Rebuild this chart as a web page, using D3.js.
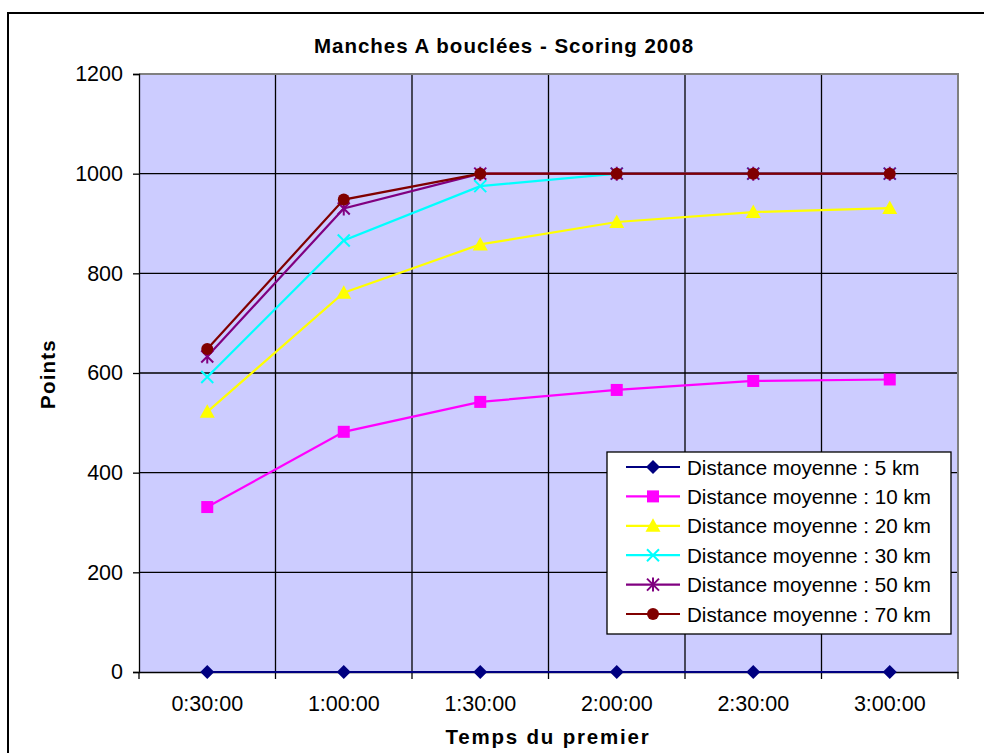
<!DOCTYPE html>
<html>
<head>
<meta charset="utf-8">
<script src="https://cdn.jsdelivr.net/npm/d3@7"></script>
<style>
  body { margin: 0; background: #fff; }
  text { font-family: "Liberation Sans", Arial, sans-serif; }
</style>
</head>
<body>
<svg id="chart" width="984" height="753"></svg>
<script>
// Categories (time of the first pilot)
const categories = ["0:30:00", "1:00:00", "1:30:00", "2:00:00", "2:30:00", "3:00:00"];

// Series values
const km5  = [0, 0, 0, 0, 0, 0];
const km10 = [331, 482, 542, 566, 584, 587];
const km20 = [522, 761, 858, 903, 923, 931];
const km30 = [592, 866, 975, 1000, 1000, 1000];
const km50 = [633, 930, 1000, 1000, 1000, 1000];
const km70 = [648, 948, 1000, 1000, 1000, 1000];

const seriesNames = [
    "Distance moyenne : 5 km",
    "Distance moyenne : 10 km",
    "Distance moyenne : 20 km",
    "Distance moyenne : 30 km",
    "Distance moyenne : 50 km",
    "Distance moyenne : 70 km"
];
const yTicks = [0, 200, 400, 600, 800, 1000, 1200];

const series = [
    { name: seriesNames[0], values: km5,  color: "#000080", marker: "diamond" },
    { name: seriesNames[1], values: km10, color: "#FF00FF", marker: "square" },
    { name: seriesNames[2], values: km20, color: "#FFFF00", marker: "triangle" },
    { name: seriesNames[3], values: km30, color: "#00FFFF", marker: "cross" },
    { name: seriesNames[4], values: km50, color: "#800080", marker: "star" },
    { name: seriesNames[5], values: km70, color: "#800000", marker: "circle" }
];

const svg = d3.select("#chart");

// Chart area border
svg.append("rect")
    .attr("x", 8).attr("y", 13)
    .attr("width", 1000).attr("height", 760)
    .attr("fill", "#fff")
    .attr("stroke", "#000")
    .attr("stroke-width", 2);

// Plot area
const plot = { left: 139, top: 74, right: 958, bottom: 672 };

const x = d3.scaleBand()
    .domain(categories)
    .range([plot.left, plot.right]);

const y = d3.scaleLinear()
    .domain([0, 1200])
    .range([plot.bottom, plot.top]);

svg.append("rect")
    .attr("x", plot.left).attr("y", plot.top)
    .attr("width", plot.right - plot.left)
    .attr("height", plot.bottom - plot.top)
    .attr("fill", "#CCCCFF");

// Horizontal gridlines
svg.append("g")
    .selectAll("line")
    .data(yTicks.filter(d => d > 0 && d < 1200))
    .enter().append("line")
    .attr("x1", plot.left).attr("x2", plot.right)
    .attr("y1", d => y(d)).attr("y2", d => y(d))
    .attr("stroke", "#000").attr("stroke-width", 1.3);

// Vertical gridlines at category boundaries
svg.append("g")
    .selectAll("line")
    .data(categories.slice(1))
    .enter().append("line")
    .attr("x1", d => x(d)).attr("x2", d => x(d))
    .attr("y1", plot.top).attr("y2", plot.bottom)
    .attr("stroke", "#000").attr("stroke-width", 1.3);

// Plot border (top & right in gray)
svg.append("path")
    .attr("d", `M${plot.left},${plot.top}H${plot.right}V${plot.bottom}`)
    .attr("fill", "none")
    .attr("stroke", "#808080")
    .attr("stroke-width", 2);

// Y axis
const yAxis = svg.append("g")
    .attr("transform", `translate(${plot.left},0)`)
    .call(d3.axisLeft(y).tickValues(yTicks).tickFormat(d3.format("d")).tickSize(6).tickPadding(10));
yAxis.select(".domain").attr("stroke", "#000").attr("stroke-width", 1.3);
yAxis.selectAll(".tick line").attr("stroke", "#000").attr("stroke-width", 1.3);
yAxis.selectAll("text")
    .attr("font-size", 21.5)
    .attr("fill", "#000")
    .style("font-family", "Liberation Sans, Arial, sans-serif");

// X axis (ticks at category boundaries, labels centered)
const xAxis = svg.append("g")
    .attr("transform", `translate(0,${plot.bottom})`)
    .call(d3.axisBottom(x).tickSize(0).tickPadding(24));
xAxis.select(".domain").attr("stroke", "#000").attr("stroke-width", 1.3);
xAxis.selectAll("text")
    .attr("font-size", 21.5)
    .attr("fill", "#000")
    .style("font-family", "Liberation Sans, Arial, sans-serif");
xAxis.selectAll(".bound")
    .data(categories.map(d => x(d)).concat([plot.right]))
    .enter().append("line")
    .attr("class", "bound")
    .attr("x1", d => d).attr("x2", d => d)
    .attr("y1", 0).attr("y2", 7)
    .attr("stroke", "#000").attr("stroke-width", 1.3);

// Titles
svg.append("text")
    .attr("x", 504).attr("y", 53)
    .attr("text-anchor", "middle")
    .attr("font-size", 20.5)
    .attr("font-weight", "bold")
    .attr("letter-spacing", 1.0)
    .text("Manches A bouclées - Scoring 2008");

svg.append("text")
    .attr("x", 548).attr("y", 744)
    .attr("text-anchor", "middle")
    .attr("font-size", 20.5)
    .attr("font-weight", "bold")
    .attr("letter-spacing", 1.8)
    .text("Temps du premier");

svg.append("text")
    .attr("transform", "translate(55,374) rotate(-90)")
    .attr("text-anchor", "middle")
    .attr("font-size", 20.5)
    .attr("font-weight", "bold")
    .attr("letter-spacing", 1.2)
    .text("Points");

// Marker drawing
function drawMarker(g, type, color) {
    const s = 6;
    if (type === "diamond") {
        g.append("path").attr("d", `M0,${-s - 1}L${s + 1},0L0,${s + 1}L${-s - 1},0Z`).attr("fill", color);
    } else if (type === "square") {
        g.append("rect").attr("x", -s).attr("y", -s).attr("width", 2 * s).attr("height", 2 * s).attr("fill", color);
    } else if (type === "triangle") {
        g.append("path").attr("d", `M0,${-s - 1.5}L${s + 1.5},${s}L${-s - 1.5},${s}Z`).attr("fill", color);
    } else if (type === "cross") {
        g.append("path").attr("d", `M${-s},${-s}L${s},${s}M${-s},${s}L${s},${-s}`)
            .attr("stroke", color).attr("stroke-width", 2);
    } else if (type === "star") {
        g.append("path").attr("d", `M${-s},${-s}L${s},${s}M${-s},${s}L${s},${-s}M0,${-s - 1}V${s + 1}`)
            .attr("stroke", color).attr("stroke-width", 2);
    } else if (type === "circle") {
        g.append("circle").attr("r", s).attr("fill", color);
    }
}

const cx = d => x(d) + x.bandwidth() / 2;
const line = d3.line()
    .x((v, i) => cx(categories[i]))
    .y(v => y(v));

// Series lines and markers
series.forEach(s => {
    const g = svg.append("g").attr("class", "series");
    g.append("path")
        .datum(s.values)
        .attr("d", line)
        .attr("fill", "none")
        .attr("stroke", s.color)
        .attr("stroke-width", 2.2);
    g.selectAll(".marker")
        .data(s.values)
        .enter().append("g")
        .attr("class", "marker")
        .attr("transform", (v, i) => `translate(${cx(categories[i])},${y(v)})`)
        .each(function () { drawMarker(d3.select(this), s.marker, s.color); });
});

// Legend
const legend = svg.append("g").attr("transform", "translate(607,452)");
legend.append("rect")
    .attr("width", 344).attr("height", 182)
    .attr("fill", "#fff")
    .attr("stroke", "#000")
    .attr("stroke-width", 1.3);

const rows = legend.selectAll(".row")
    .data(series)
    .enter().append("g")
    .attr("class", "row")
    .attr("transform", (d, i) => `translate(0,${15 + i * 29.4})`);

rows.append("line")
    .attr("x1", 19).attr("x2", 73)
    .attr("stroke", d => d.color)
    .attr("stroke-width", 2.2);
rows.each(function (d) {
    const m = d3.select(this).append("g").attr("transform", "translate(46,0)");
    drawMarker(m, d.marker, d.color);
});
rows.append("text")
    .attr("x", 80).attr("y", 7.5)
    .attr("font-size", 20.6)
    .text(d => d.name);
</script>
</body>
</html>
